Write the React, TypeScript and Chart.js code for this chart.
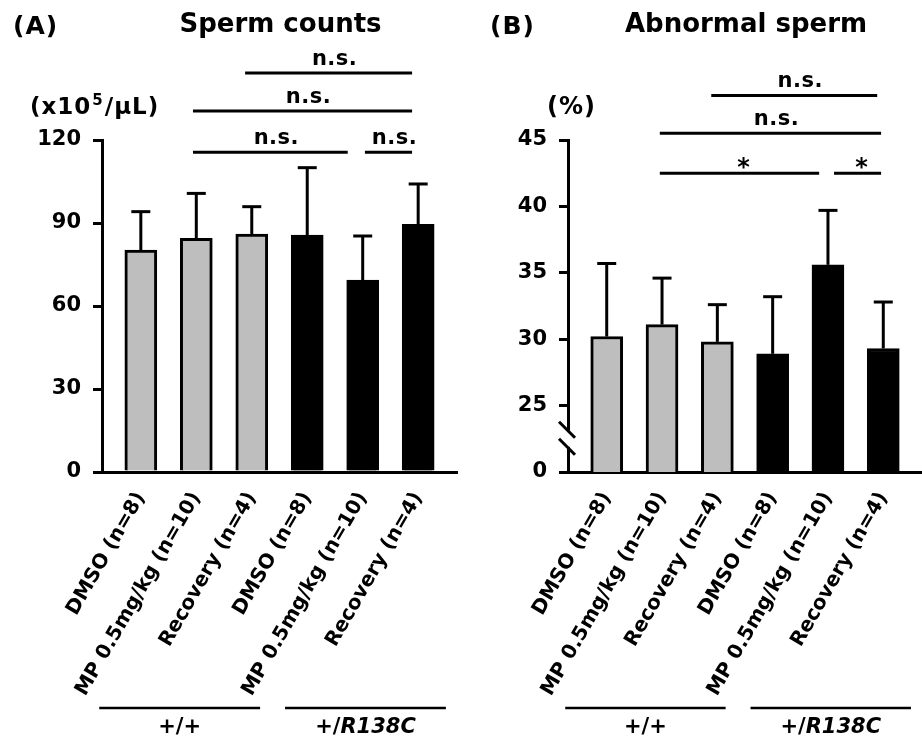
import React, { useEffect, useRef } from 'react';
import { Chart, registerables } from 'chart.js';

Chart.register(...registerables);

// ---------- data ----------
const categories = [
  'DMSO (n=8)',
  'MP 0.5mg/kg (n=10)',
  'Recovery (n=4)',
  'DMSO (n=8)',
  'MP 0.5mg/kg (n=10)',
  'Recovery (n=4)',
];
const genotypeGroups = ['+/+', '+/R138C'];
const groupSpans = [
  [-0.75, 2.15],
  [2.6, 5.5],
];
const barFill = ['#bebebe', '#bebebe', '#bebebe', '#000000', '#000000', '#000000'];

const countMeans = [80.2, 84.5, 86.0, 85.6, 69.4, 89.5];
const countErrors = [13.9, 16.2, 9.9, 24.4, 15.9, 14.6];
const countTicks = [0, 30, 60, 90, 120];
// [from bar, to bar, level, label]
const countSig: [number, number, number, string][] = [
  [1.88, 4.89, 144.2, 'n.s.'],
  [0.94, 4.89, 130.5, 'n.s.'],
  [0.94, 3.73, 115.6, 'n.s.'],
  [4.04, 4.89, 115.6, 'n.s.'],
];

const abnormalMeans = [30.2, 31.1, 29.8, 28.9, 35.6, 29.3];
const abnormalErrors = [5.5, 3.5, 2.8, 4.3, 4.1, 3.5];
// axis is broken: the lowest tick (20) is labelled "0"
const abnormalTicks = [20, 25, 30, 35, 40, 45];
const abnormalSig: [number, number, number, string][] = [
  [1.89, 4.89, 48.36, 'n.s.'],
  [0.96, 4.96, 45.5, 'n.s.'],
  [0.96, 3.84, 42.5, '*'],
  [4.11, 4.96, 42.5, '*'],
];

const FONT = '"DejaVu Sans", Verdana, sans-serif';

type Panel = {
  letter: string;
  letterX: number;
  title: string;
  unit: 'count' | 'pct';
  unitX: number;
  means: number[];
  errors: number[];
  ticks: number[];
  sig: [number, number, number, string][];
  yMin: number;
  yMax: number;
  axisLeft: number;
  padRight: number;
  broken: boolean;
  width: number;
};

function decorPlugin(p: Panel) {
  return {
    id: 'decor' + p.letter,
    afterDatasetsDraw(chart: any) {
      const ctx = chart.ctx as CanvasRenderingContext2D;
      const xs = chart.scales.x;
      const ys = chart.scales.y;
      const area = chart.chartArea;
      ctx.save();
      ctx.strokeStyle = '#000';
      ctx.fillStyle = '#000';
      ctx.lineWidth = 3;
      ctx.lineCap = 'butt';

      // error bars (upper only)
      p.means.forEach((m, i) => {
        const cx = xs.getPixelForValue(i);
        const y0 = ys.getPixelForValue(m);
        const y1 = ys.getPixelForValue(m + p.errors[i]);
        ctx.beginPath();
        ctx.moveTo(cx, y0);
        ctx.lineTo(cx, y1);
        ctx.stroke();
        ctx.beginPath();
        ctx.moveTo(cx - 9.5, y1);
        ctx.lineTo(cx + 9.5, y1);
        ctx.stroke();
      });

      // significance lines
      p.sig.forEach(([a, b, lvl, txt]) => {
        const x1 = xs.getPixelForValue(a);
        const x2 = xs.getPixelForValue(b);
        const yy = ys.getPixelForValue(lvl);
        ctx.beginPath();
        ctx.moveTo(x1, yy);
        ctx.lineTo(x2, yy);
        ctx.stroke();
        ctx.textAlign = 'center';
        ctx.textBaseline = 'alphabetic';
        if (txt === '*') {
          ctx.font = `bold 24px ${FONT}`;
          ctx.fillText(txt, (x1 + x2) / 2 + 4, yy + 2);
        } else {
          ctx.font = `bold 21px ${FONT}`;
          (ctx as any).letterSpacing = '0.5px';
          ctx.fillText(txt, (x1 + x2) / 2 + 6, yy - 8);
          (ctx as any).letterSpacing = '0px';
        }
      });

      // axis break
      if (p.broken) {
        const yTop = ys.getPixelForValue(p.ticks[1]);
        const yBot = ys.getPixelForValue(p.ticks[0]);
        const mid = (yTop + yBot) / 2;
        const lx = area.left;
        ctx.fillStyle = '#fff';
        ctx.fillRect(lx - 3, mid - 8, 6, 16);
        ctx.fillStyle = '#000';
        ctx.lineWidth = 3;
        [mid - 9, mid + 8].forEach((cy) => {
          ctx.beginPath();
          ctx.moveTo(lx - 9, cy - 8);
          ctx.lineTo(lx + 7, cy + 8);
          ctx.stroke();
        });
      }

      // genotype group lines and labels
      const gy = area.bottom + 236;
      groupSpans.forEach(([a, b], gi) => {
        const x1 = xs.getPixelForValue(a);
        const x2 = xs.getPixelForValue(b);
        ctx.lineWidth = 2.5;
        ctx.beginPath();
        ctx.moveTo(x1, gy);
        ctx.lineTo(x2, gy);
        ctx.stroke();
        const label = genotypeGroups[gi];
        const cx = (x1 + x2) / 2;
        const plain = label.startsWith('+/') ? '+/' : label;
        const rest = label.startsWith('+/') ? label.slice(2) : '';
        const fPlain = `bold 21px ${FONT}`;
        const fItal = `italic bold 21px ${FONT}`;
        ctx.font = fPlain;
        const wPlain = ctx.measureText(plain).width;
        ctx.font = fItal;
        const wRest = rest ? ctx.measureText(rest).width : 0;
        const start = cx - (wPlain + wRest) / 2;
        ctx.textAlign = 'left';
        ctx.textBaseline = 'alphabetic';
        ctx.font = fPlain;
        ctx.fillText(plain, start, gy + 25);
        if (rest) {
          ctx.font = fItal;
          ctx.fillText(rest, start + wPlain, gy + 25);
        }
      });

      // panel letter and title
      ctx.textBaseline = 'alphabetic';
      ctx.textAlign = 'left';
      ctx.font = `bold 25px ${FONT}`;
      (ctx as any).letterSpacing = '1px';
      ctx.fillText(p.letter, p.letterX, 34);
      (ctx as any).letterSpacing = '0px';
      ctx.textAlign = 'center';
      ctx.font = `bold 26px ${FONT}`;
      ctx.fillText(p.title, (area.left + area.right) / 2 + 1, 32);

      // unit label
      ctx.textAlign = 'left';
      (ctx as any).letterSpacing = '1px';
      if (p.unit === 'count') {
        let ux = p.unitX;
        const base = 114;
        ctx.font = `bold 23px ${FONT}`;
        ctx.fillText('(x10', ux, base);
        ux += ctx.measureText('(x10').width;
        ctx.font = `bold 15px ${FONT}`;
        ctx.fillText('5', ux + 1, base - 9);
        ux += ctx.measureText('5').width + 2;
        ctx.font = `bold 23px ${FONT}`;
        ctx.fillText('/μL)', ux, base);
      } else {
        ctx.font = `bold 24px ${FONT}`;
        ctx.fillText('(%)', p.unitX, 114);
      }
      (ctx as any).letterSpacing = '0px';
      ctx.restore();
    },
  };
}

function makeConfig(p: Panel): any {
  return {
    type: 'bar',
    data: {
      datasets: [
        {
          data: p.means.map((v, i) => ({ x: i, y: v })),
          backgroundColor: barFill,
          borderColor: '#000',
          borderWidth: 3,
          barThickness: 32,
        },
      ],
    },
    options: {
      responsive: false,
      animation: false,
      devicePixelRatio: 1,
      layout: { padding: { top: 140, right: p.padRight, left: 0, bottom: 0 } },
      plugins: {
        legend: { display: false },
        tooltip: { enabled: false },
        title: { display: false },
      },
      scales: {
        x: {
          type: 'linear',
          offset: false,
          min: -0.7,
          max: 5.7,
          grid: { display: false },
          border: { display: true, color: '#000', width: 3 },
          afterBuildTicks: (axis: any) => {
            axis.ticks = categories.map((_, i) => ({ value: i }));
          },
          afterFit: (axis: any) => {
            axis.height = 267;
          },
          ticks: {
            autoSkip: false,
            minRotation: 60,
            maxRotation: 60,
            padding: 8,
            color: '#000',
            font: { family: FONT, weight: 'bold', size: 20 },
            callback: (v: number) => categories[Math.round(v)] ?? '',
          },
        },
        y: {
          type: 'linear',
          min: p.yMin,
          max: p.yMax,
          grid: {
            display: true,
            drawOnChartArea: false,
            drawTicks: true,
            tickLength: 9,
            color: '#000',
            lineWidth: 3,
          },
          border: { display: true, color: '#000', width: 3 },
          afterBuildTicks: (axis: any) => {
            axis.ticks = p.ticks.map((v) => ({ value: v }));
          },
          afterFit: (axis: any) => {
            axis.width = p.axisLeft;
          },
          ticks: {
            padding: 12,
            color: '#000',
            font: { family: FONT, weight: 'bold', size: 21 },
            callback: (v: number) => (p.broken && v === p.ticks[0] ? '0' : String(v)),
          },
        },
      },
    },
    plugins: [decorPlugin(p)],
  };
}

const panelA: Panel = {
  letter: '(A)',
  letterX: 13,
  title: 'Sperm counts',
  unit: 'count',
  unitX: 30,
  means: countMeans,
  errors: countErrors,
  ticks: countTicks,
  sig: countSig,
  yMin: 0,
  yMax: 120,
  axisLeft: 102,
  padRight: 3,
  broken: false,
  width: 460,
};

const panelB: Panel = {
  letter: '(B)',
  letterX: 30,
  title: 'Abnormal sperm',
  unit: 'pct',
  unitX: 87,
  means: abnormalMeans,
  errors: abnormalErrors,
  ticks: abnormalTicks,
  sig: abnormalSig,
  yMin: 20,
  yMax: 45,
  axisLeft: 108,
  padRight: 0,
  broken: true,
  width: 462,
};

function PanelChart({ panel }: { panel: Panel }) {
  const ref = useRef<HTMLCanvasElement | null>(null);
  useEffect(() => {
    if (!ref.current) return;
    const chart = new Chart(ref.current, makeConfig(panel));
    return () => chart.destroy();
  }, [panel]);
  return (
    <canvas
      ref={ref}
      width={panel.width}
      height={739}
      style={{ width: panel.width, height: 739, display: 'block' }}
    />
  );
}

export default function App() {
  return (
    <div
      style={{
        position: 'fixed',
        left: 0,
        top: 0,
        width: 922,
        height: 739,
        background: '#fff',
        display: 'flex',
        flexDirection: 'row',
      }}
    >
      <PanelChart panel={panelA} />
      <PanelChart panel={panelB} />
    </div>
  );
}
